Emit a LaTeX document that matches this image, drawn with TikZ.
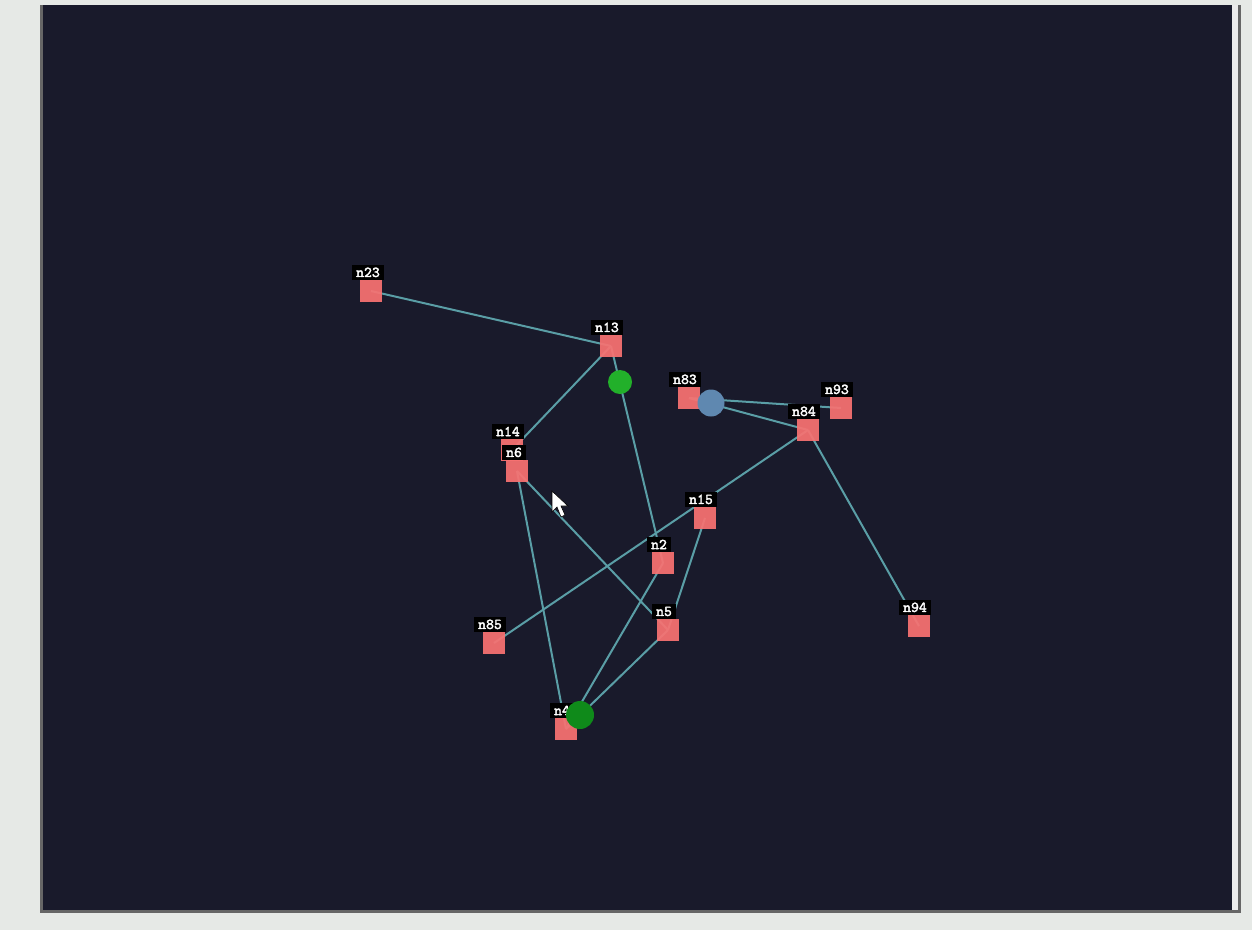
\documentclass[tikz,border=0pt]{standalone}
\usepackage{fontspec}
\newfontfamily\tagfont{lmmono10-regular}[Extension=.otf, AutoFakeBold=2.5]
\usepackage{xcolor}
\usetikzlibrary{positioning}

\definecolor{screenbg}{HTML}{E6E9E6}
\definecolor{panelbg}{HTML}{191A2B}
\definecolor{boxred}{HTML}{F87272}
\definecolor{linkteal}{HTML}{5A9EA6}
\definecolor{pktgreen}{HTML}{22B02A}
\definecolor{pktdark}{HTML}{0F8A1A}
\definecolor{pktblue}{HTML}{5F88B0}

\pgfdeclarelayer{bg}
\pgfdeclarelayer{links}
\pgfsetlayers{bg,links,main}

\begin{document}
\begin{tikzpicture}[
    x=1pt, y=-1pt,
    netnode/.style={
        rectangle,
        fill=boxred,
        fill opacity=0.93,
        minimum size=22pt,
        inner sep=0pt
    },
    tag/.style={
        rectangle,
        fill=black,
        text=white,
        font=\tagfont\bfseries\fontsize{15}{15}\selectfont,
        inner xsep=4pt,
        inner ysep=2.5pt
    },
    link/.style={
        draw,
        line width=2pt,
        color=linkteal
    },
    packet/.style={
        circle,
        inner sep=0pt
    }
]
    \useasboundingbox (0,0) rectangle (1252,930);

    % --- Screen and panel ---
    \begin{pgfonlayer}{bg}
        \fill[screenbg] (0,0) rectangle (1252,930);
        \fill[panelbg] (40,5) rectangle (1240,913);
        \fill[black!60] (40,5) rectangle (43,913);
        \fill[black!60] (40,910) rectangle (1240,913);
        \fill[white!92!black] (1232,5) rectangle (1238,910);
        \fill[black!60] (1238,5) rectangle (1241,913);
    \end{pgfonlayer}

    % --- Network nodes ---
    \node [netnode] (n23) at (371,291) {};
    \node [netnode] (n13) at (611,346) {};
    \node [netnode] (n83) at (689,398) {};
    \node [netnode] (n93) at (841,408) {};
    \node [netnode] (n84) at (808,430) {};
    \node [netnode] (n14) at (512,450) {};
    \node [netnode] (n6) at (517,471) {};
    \node [netnode] (n15) at (705,518) {};
    \node [netnode] (n2) at (663,563) {};
    \node [netnode] (n5) at (668,630) {};
    \node [netnode] (n85) at (494,643) {};
    \node [netnode] (n94) at (919,626) {};
    \node [netnode] (n4) at (566,729) {};

    % --- Labels above the nodes ---
    \node [tag, above=0pt of n23, xshift=-3pt] (n23-tag) {n23};
    \node [tag, above=0pt of n13, xshift=-4pt] (n13-tag) {n13};
    \node [tag, above=0pt of n83, xshift=-4pt] (n83-tag) {n83};
    \node [tag, above=0pt of n93, xshift=-4pt] (n93-tag) {n93};
    \node [tag, above=0pt of n84, xshift=-4pt] (n84-tag) {n84};
    \node [tag, above=0pt of n14, xshift=-4pt] (n14-tag) {n14};
    \node [tag, above=0pt of n6, xshift=-3pt] (n6-tag) {n6};
    \node [tag, above=0pt of n15, xshift=-4pt] (n15-tag) {n15};
    \node [tag, above=0pt of n2, xshift=-4pt] (n2-tag) {n2};
    \node [tag, above=0pt of n5, xshift=-4pt] (n5-tag) {n5};
    \node [tag, above=0pt of n85, xshift=-4pt] (n85-tag) {n85};
    \node [tag, above=0pt of n94, xshift=-4pt] (n94-tag) {n94};
    \node [tag, above=0pt of n4, xshift=-4pt] (n4-tag) {n4};

    % --- Links (under the boxes) ---
    \begin{pgfonlayer}{links}
        \path [link] (n23.center) -- (n13.center);
        \path [link] (n13.center) -- (n14.center);
        \path [link] (n13.center) -- (n2.center);
        \path [link] (n83.center) -- (n93.center);
        \path [link] (n83.center) -- (n84.center);
        \path [link] (n84.center) -- (n85.center);
        \path [link] (n84.center) -- (n94.center);
        \path [link] (n15.center) -- (n5.center);
        \path [link] (n6.center) -- (n5.center);
        \path [link] (n6.center) -- (n4.center);
        \path [link] (n2.center) -- (n4.center);
        \path [link] (n5.center) -- (n4.center);
    \end{pgfonlayer}

    % --- Packets on the links ---
    \node [packet, fill=pktgreen, minimum size=24pt] (pkt-a) at (620,382) {};
    \node [packet, fill=pktblue, minimum size=27pt] (pkt-b) at (711,403) {};
    \node [packet, fill=pktdark, minimum size=28pt] (pkt-c) at (580,715) {};

    % --- Mouse pointer ---
    \filldraw [fill=white, draw=black, line width=0.6pt]
        (552,491) -- (552,512) -- (557,507) -- (561,517) -- (565,515)
        -- (561,506) -- (568,506) -- cycle;

\end{tikzpicture}
\end{document}
